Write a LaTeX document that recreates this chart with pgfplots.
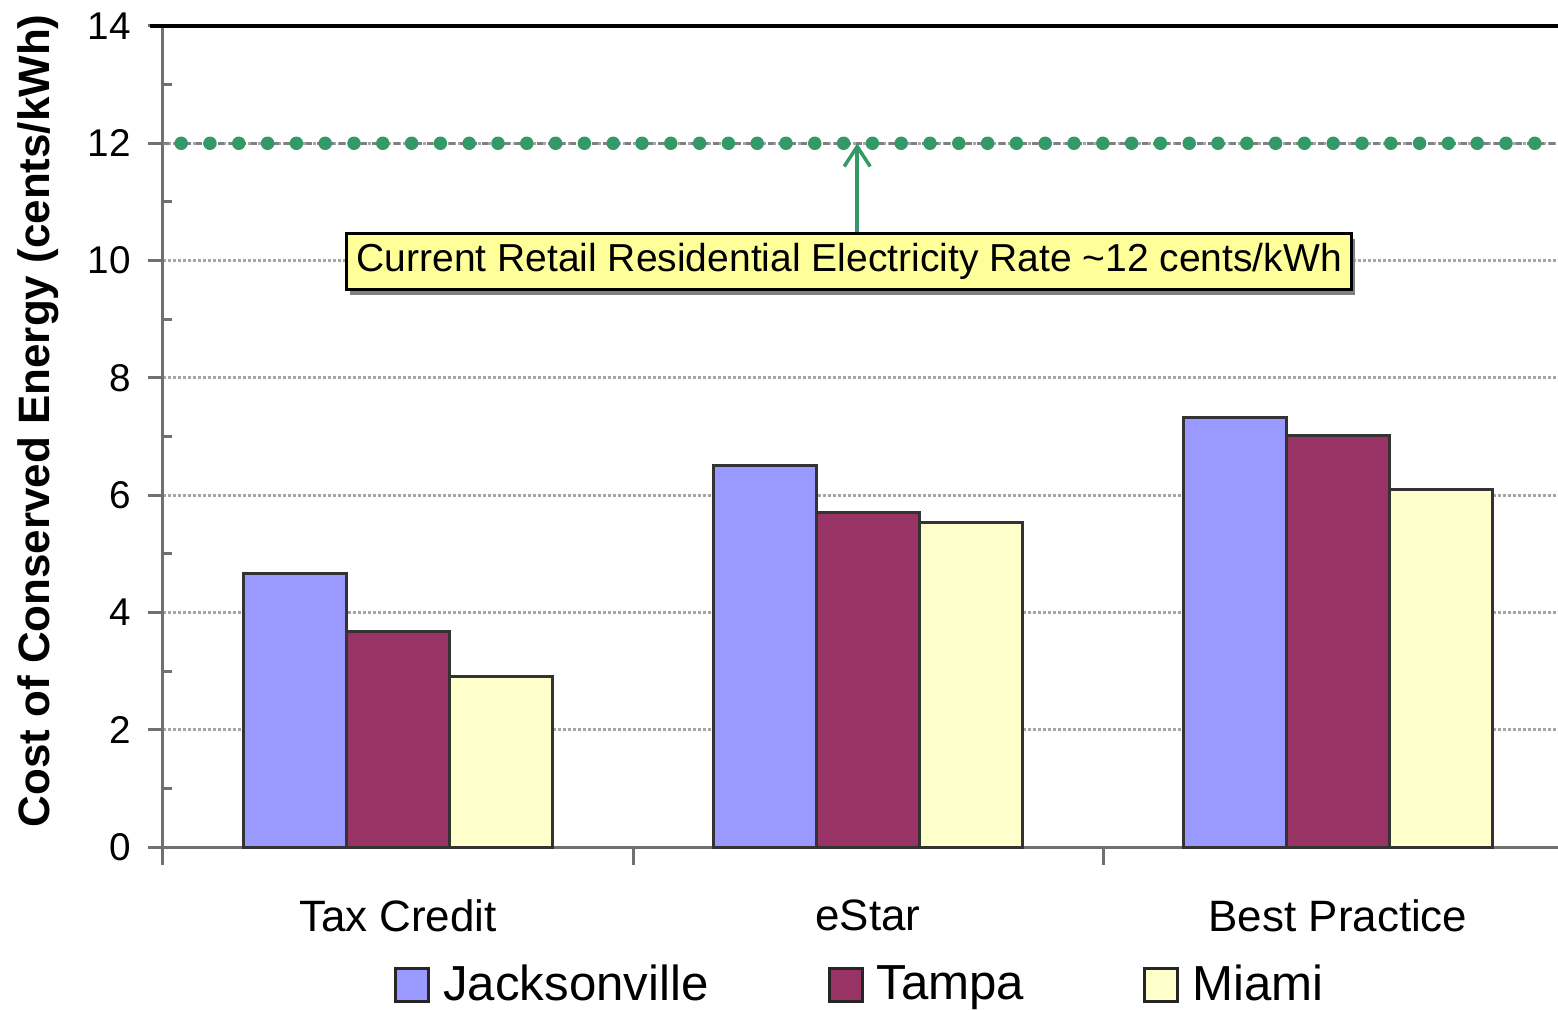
\documentclass[border=0pt]{standalone}
\usepackage{fontspec}
\setmainfont{Liberation Sans}
\usepackage{pgfplots}
\pgfplotsset{compat=1.18}
\usetikzlibrary{shadows,arrows.meta}

\definecolor{jax}{HTML}{9999FF}
\definecolor{tampa}{HTML}{993366}
\definecolor{miami}{HTML}{FFFFCC}
\definecolor{rategreen}{HTML}{339966}
\definecolor{axisgray}{HTML}{707070}
\definecolor{notefill}{HTML}{FFFF99}

\begin{document}
\begin{tikzpicture}
\path[use as bounding box] (-16.3mm,-16.3mm) rectangle (139.5mm,84.7mm);
\begin{axis}[
  scale only axis,
  width=139.5mm, height=82.1mm,
  xmin=0.5, xmax=3.468,
  ymin=0, ymax=14,
  axis x line*=bottom, axis y line*=left,
  axis line style={draw=axisgray, line width=0.3mm},
  ytick={0,2,...,14},
  minor y tick num=1,
  tick align=outside,
  major tick length=1.5mm,
  minor tick length=0.9mm,
  y tick style={draw=axisgray, line width=0.3mm},
  minor y tick style={xshift=0.9mm},
  ymajorgrids,
  y grid style={draw=gray!70, line width=0.3mm, dash pattern=on 0.3mm off 0.2mm},
  yticklabel style={font=\fontsize{11}{13}\selectfont, xshift=-0.5mm},
  /pgf/number format/assume math mode=true,
  xtick={1,2,3},
  xticklabels={Tax Credit,eStar,Best Practice},
  x tick style={draw=none},
  xticklabel style={font=\fontsize{12.5}{15}\selectfont, anchor=north, yshift=-2.5mm},
  extra x ticks={0.5,1.5,2.5},
  extra x tick labels={},
  extra x tick style={x tick style={draw=axisgray, line width=0.3mm}, major tick length=1.8mm},
  ylabel={Cost of Conserved Energy (cents/kWh)},
  ylabel style={font=\bfseries\fontsize{12.5}{15}\selectfont, at={(axis description cs:-0.0896,0.519)}, anchor=center},
  ybar=0pt,
  bar width=0.219,
  legend style={at={(axis cs:1.988,0)}, anchor=center, yshift=-13.8mm,
    draw=none, fill=none, legend columns=-1,
    font=\fontsize{14}{17}\selectfont,
    /tikz/every even column/.append style={column sep=11.2mm},
    /tikz/every odd column/.append style={column sep=0.6mm}},
  legend image code/.code={\draw[#1, draw=black!85, line width=0.3mm] (0mm,-1.65mm) rectangle (3.3mm,1.65mm);},
  clip=false,
]
\addplot[fill=jax, draw=black!80, line width=0.3mm] coordinates {(1,4.67) (2,6.51) (3,7.33)};
\addplot[fill=tampa, draw=black!80, line width=0.3mm] coordinates {(1,3.68) (2,5.70) (3,7.01)};
\addplot[fill=miami, draw=black!80, line width=0.3mm] coordinates {(1,2.90) (2,5.53) (3,6.09)};
\legend{Jacksonville,Tampa,Miami}

% current retail rate
\addplot[sharp plot, forget plot, draw=gray, line width=0.25mm, dash pattern=on 0.6mm off 0.5mm] coordinates {(0.5,12) (3.468,12)};
\addplot[sharp plot, forget plot, draw=rategreen, line width=1.35mm, line cap=round,
  dash pattern=on 0pt off 2.88mm, dash phase=1.06mm] coordinates {(0.5,12) (3.468,12)};

\draw[black, line width=0.35mm] ([xshift=-1.3mm]axis cs:0.5,14) -- (axis cs:3.468,14);

\draw[rategreen, line width=0.35mm, -{Straight Barb[length=2mm,width=2.6mm]}] (axis cs:1.977,10.45) -- (axis cs:1.977,12);
\node[draw=black, line width=0.3mm, fill=notefill,
  drop shadow={shadow xshift=0.3mm, shadow yshift=-0.5mm, fill=gray, opacity=1},
  minimum width=100.5mm, minimum height=5.6mm, inner sep=0pt,
  font=\fontsize{11.1}{13}\selectfont]
  at (axis cs:1.96,9.98) {Current Retail Residential Electricity Rate \textasciitilde12 cents/kWh};
\end{axis}
\end{tikzpicture}
\end{document}
